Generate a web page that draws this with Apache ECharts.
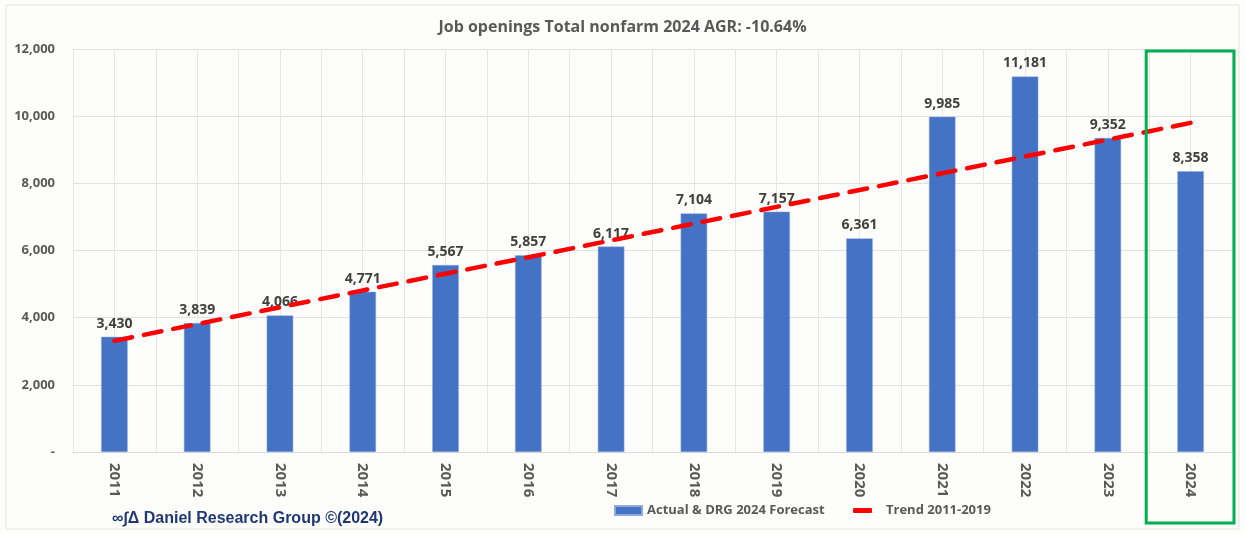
<!DOCTYPE html>
<html>
<head>
<meta charset="utf-8">
<script src="https://cdn.jsdelivr.net/npm/echarts@6/dist/echarts.min.js"></script>
<style>
  html, body { margin: 0; padding: 0; background: #fdfdfb; }
  #chart { width: 1245px; height: 534px; }
</style>
</head>
<body>
<div id="chart"></div>
<script>
const years = ['2011', '2012', '2013', '2014', '2015', '2016', '2017', '2018', '2019', '2020', '2021', '2022', '2023', '2024']
const openings = [3430, 3839, 4066, 4771, 5567, 5857, 6117, 7104, 7157, 6361, 9985, 11181, 9352, 8358]
const trend = [3310, 3810, 4310, 4810, 5310, 5800, 6300, 6800, 7300, 7800, 8300, 8800, 9300, 9800]
const yTicks = [0, 2000, 4000, 6000, 8000, 10000, 12000]

// half-category grid lines come from a hidden second axis
const halfSlots = years.flatMap((y) => [y + 'a', y + 'b'])

const fmt = (v) => (v === 0 ? '-' : v.toLocaleString('en-US'))
const legendText = { fontFamily: 'Open Sans', fontSize: 13, fontWeight: 'bold', color: '#595959' }

const chart = echarts.init(document.getElementById('chart'))
const option = {
  backgroundColor: '#fdfdfb',
  animation: false,
  title: {
    text: 'Job openings Total nonfarm 2024 AGR: -10.64%',
    left: 'center',
    top: 14,
    textStyle: { fontFamily: 'Open Sans', fontSize: 16, fontWeight: 'bold', color: '#595959' },
  },
  grid: { left: 73, right: 13, top: 49, bottom: 82 },
  legend: [
    {
      bottom: 12,
      left: 609,
      itemWidth: 27,
      itemHeight: 9,
      textStyle: legendText,
      data: [{ name: 'Actual & DRG 2024 Forecast', icon: 'rect' }],
    },
    {
      bottom: 12,
      left: 848,
      itemWidth: 19,
      itemHeight: 5,
      textStyle: { ...legendText, padding: [0, 0, 0, 9] },
      data: [{ name: 'Trend 2011-2019', icon: 'roundRect', itemStyle: { color: '#ff0000' } }],
    },
  ],
  xAxis: [
    {
      type: 'category',
      data: years,
      axisLine: { lineStyle: { color: '#d9d9d9' } },
      axisTick: { show: false },
      axisLabel: {
        rotate: -90,
        margin: 11,
        fontFamily: 'Open Sans',
        fontSize: 15,
        fontWeight: 'bold',
        color: '#595959',
      },
      splitLine: { show: false },
    },
    {
      type: 'category',
      data: halfSlots,
      position: 'bottom',
      axisLine: { show: false },
      axisTick: { show: false },
      axisLabel: { show: false },
      splitLine: { show: true, interval: 0, lineStyle: { color: '#e6e6e6' } },
    },
  ],
  yAxis: {
    type: 'value',
    min: yTicks[0],
    max: yTicks[yTicks.length - 1],
    interval: 2000,
    axisLine: { show: false },
    axisTick: { show: false },
    axisLabel: {
      formatter: fmt,
      margin: 18,
      fontFamily: 'Open Sans',
      fontSize: 13,
      fontWeight: 'bold',
      color: '#595959',
    },
    splitLine: { lineStyle: { color: '#e0e0e0' } },
  },
  series: [
    {
      name: 'Actual & DRG 2024 Forecast',
      type: 'bar',
      data: openings,
      barWidth: '32%',
      itemStyle: { color: '#4472c4', borderColor: '#8fa9dc', borderWidth: 0.5 },
      label: {
        show: true,
        position: 'top',
        distance: 6,
        formatter: (p) => fmt(p.value),
        fontFamily: 'Open Sans',
        fontSize: 14,
        fontWeight: 'bold',
        color: '#404040',
      },
      z: 2,
    },
    {
      name: 'Trend 2011-2019',
      type: 'line',
      data: trend,
      symbol: 'none',
      lineStyle: { color: '#ff0000', width: 4.5, type: [18, 12], cap: 'round' },
      itemStyle: { color: '#ff0000' },
      z: 3,
    },
  ],
}
chart.setOption(option)

// frame around the forecast year, placed through the category scale
const slotA = chart.convertToPixel({ xAxisIndex: 1 }, '2024a')
const slotB = chart.convertToPixel({ xAxisIndex: 1 }, '2024b')
const halfW = slotB - slotA
const frameX0 = slotA - halfW / 2 - 3
const frameX1 = slotB + halfW / 2 + 2
const frameTop = chart.convertToPixel({ yAxisIndex: 0 }, 12000)

chart.setOption({
  graphic: [
    {
      type: 'rect',
      shape: { x: 6, y: 5, width: 1233, height: 524 },
      style: { fill: 'none', stroke: '#e3e3e3', lineWidth: 1 },
      silent: true,
    },
    {
      type: 'rect',
      shape: { x: frameX0, y: frameTop + 2, width: frameX1 - frameX0, height: 523 - frameTop - 2 },
      style: { fill: 'none', stroke: '#00b050', lineWidth: 3 },
      silent: true,
      z: 10,
    },
    {
      type: 'text',
      left: 112,
      bottom: 7,
      style: {
        text: '∞∫Δ Daniel Research Group ©(2024)',
        font: 'bold 16px "Liberation Sans", Arial, sans-serif',
        fill: '#1f3872',
      },
    },
  ],
})
</script>
</body>
</html>
